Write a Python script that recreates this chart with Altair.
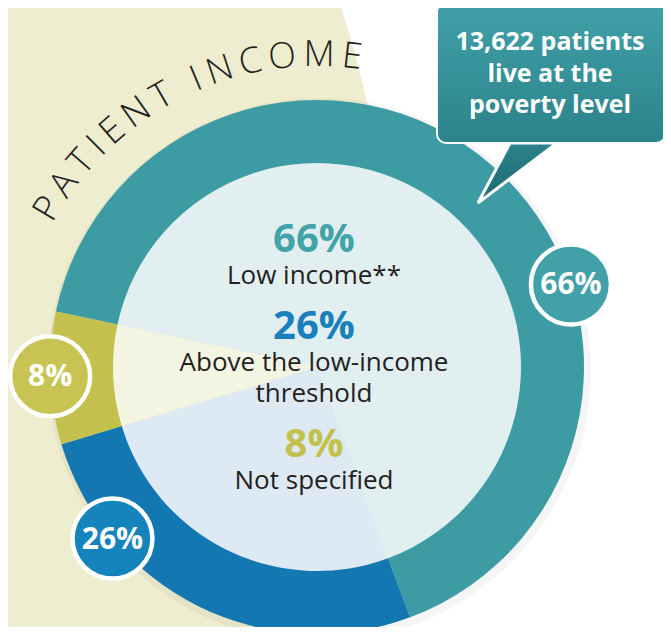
import math
import altair as alt
import pandas as pd

# ---------------- data ----------------
categories = ["Low income**", "Above the low-income threshold", "Not specified"]
shares = [66, 26, 8]
pct_labels = ["66%", "26%", "8%"]
label_lines = [["Low income**"], ["Above the low-income", "threshold"], ["Not specified"]]
title_text = "PATIENT INCOME"
callout_lines = ["13,622 patients", "live at the", "poverty level"]

# ---------------- styles ----------------
ring_colors = ["#3d9ba4", "#1378b1", "#c3c04e"]
tint_colors = ["#e1eff0", "#dde9f3", "#f4f4e3"]
bubble_colors = ["#41a0a8", "#1583bc", "#c8c453"]
pct_text_colors = ["#42a3a9", "#1a80bb", "#c3c14b"]
INK = "#231f20"
BEIGE = "#eeedcf"
FONT = "Open Sans"

# ---------------- layout (page pixels) ----------------
W, H = 655, 619
OFF = 8
CX, CY = 317, 367
R_OUT, R_IN = 267, 204
START_DEG = -78
bubble_deg = [72, 230, 268]
BUBBLE_R = 40
BG_CX, BG_CY, BG_R = -400, 261, 783
TEXT_CX = 314
BLOCK_TOP = 252
TITLE_SIZE, TITLE_TRACK, TITLE_R, TITLE_START = 36, 6.9, 312, -59.5
letter_em = {"P": .60, "A": .63, "T": .56, "I": .28, "E": .55, "N": .74,
             " ": .26, "C": .63, "O": .78, "M": .90}
BOX = dict(x=437, x2=665, y=3, y2=143)
TAIL = dict(y=[143, 203], x=[510, 478], x2=[557, 478])
CALLOUT_CX, CALLOUT_BASE, CALLOUT_LH = 550, 50, 31.5

xs = alt.Scale(domain=[0, W], nice=False, zero=False)
ys = alt.Scale(domain=[0, H], nice=False, zero=False, reverse=True)


def X(f="x"):
    return alt.X(f"{f}:Q", scale=xs, axis=None)


def Y(f="y"):
    return alt.Y(f"{f}:Q", scale=ys, axis=None)


def circle_size(r):
    # Vega symbol size is the area of the bounding square
    return (2 * r) ** 2


# background beige disc
bg = alt.Chart(pd.DataFrame({"a": [0]})).mark_circle(
    color=BEIGE, opacity=1, size=circle_size(BG_R)
).encode(x=alt.value(BG_CX - OFF), y=alt.value(BG_CY - OFF))

# soft shadow behind the ring
shadow = alt.Chart(pd.DataFrame({"a": [0]})).mark_circle(
    color="#000000", opacity=0.04, size=circle_size(R_OUT + 5)
).encode(x=alt.value(CX - OFF + 2), y=alt.value(CY - OFF + 3))

# ring + tinted inner pie
ring = pd.DataFrame({"category": categories, "share": shares, "order": list(range(len(shares))),
                     "ring": ring_colors, "tint": tint_colors})
start = math.radians(START_DEG)
theta_scale = alt.Scale(domain=[0, sum(shares)], range=[start, start + 2 * math.pi])
base_arc = alt.Chart(ring).encode(
    theta=alt.Theta("share:Q", stack=True, scale=theta_scale),
    order=alt.Order("order:Q"),
    x=alt.value(CX - OFF), y=alt.value(CY - OFF),
)
tint_layer = base_arc.mark_arc(outerRadius=R_IN + 2).encode(color=alt.Color("tint:N", scale=None))
ring_layer = base_arc.mark_arc(innerRadius=R_IN, outerRadius=R_OUT).encode(
    color=alt.Color("ring:N", scale=None))

# center text
pct_rows, lbl_rows = [], []
y0 = BLOCK_TOP
for lab, lines, col in zip(pct_labels, label_lines, pct_text_colors):
    pct_rows.append({"t": lab, "x": TEXT_CX - OFF, "y": y0 - OFF, "c": col})
    for i, ln in enumerate(lines):
        lbl_rows.append({"t": ln, "x": TEXT_CX - OFF, "y": y0 + 32 + 31 * i - OFF})
    y0 = y0 + 32 + 31 * (len(lines) - 1) + 55
center_pct = alt.Chart(pd.DataFrame(pct_rows)).mark_text(
    font=FONT, fontSize=40, fontWeight="bold", baseline="alphabetic", align="center"
).encode(x=X(), y=Y(), text="t:N", color=alt.Color("c:N", scale=None))
center_lbl = alt.Chart(pd.DataFrame(lbl_rows)).mark_text(
    font=FONT, fontSize=26, baseline="alphabetic", align="center", color=INK
).encode(x=X(), y=Y(), text="t:N")

# curved title
px_per_deg = 2 * math.pi * TITLE_R / 360
rows, acc = [], 0.0
w0 = letter_em[title_text[0]] * TITLE_SIZE
for ch in title_text:
    w = letter_em[ch] * TITLE_SIZE
    centre = acc + w / 2 - w0 / 2
    acc += w + TITLE_TRACK
    if ch == " ":
        continue
    deg = TITLE_START + centre / px_per_deg
    rad = math.radians(deg)
    rows.append({"t": ch, "x": CX + TITLE_R * math.sin(rad) - OFF,
                 "y": CY - TITLE_R * math.cos(rad) - OFF, "a": deg % 360})
title_layer = alt.Chart(pd.DataFrame(rows)).mark_text(
    font=FONT, fontSize=TITLE_SIZE, fontWeight=300, color=INK, align="center", baseline="middle"
).encode(x=X(), y=Y(), text="t:N", angle=alt.Angle("a:Q", scale=None))

# bubbles
bub = pd.DataFrame({"t": pct_labels, "deg": bubble_deg, "fill": bubble_colors})
bub["x"] = [CX + R_OUT * math.sin(math.radians(d)) - OFF for d in bub["deg"]]
bub["y"] = [CY - R_OUT * math.cos(math.radians(d)) - OFF for d in bub["deg"]]
bubbles = alt.Chart(bub).mark_circle(
    size=circle_size(BUBBLE_R), opacity=1, stroke="white", strokeWidth=4.5
).encode(x=X(), y=Y(), color=alt.Color("fill:N", scale=None))
bubble_text = alt.Chart(bub).mark_text(
    font=FONT, fontSize=30, fontWeight="bold", color="white", align="center", baseline="middle", dy=1
).encode(x=X(), y=Y(), text="t:N")

# callout
tail_df = pd.DataFrame({"y": [v - OFF for v in TAIL["y"]], "x": [v - OFF for v in TAIL["x"]],
                        "x2": [v - OFF for v in TAIL["x2"]]})
tail = alt.Chart(tail_df).mark_area(
    orient="horizontal", stroke="white", strokeWidth=3,
    color=alt.Gradient(gradient="linear", stops=[alt.GradientStop(color="#2c838b", offset=0),
                                                 alt.GradientStop(color="#1d686f", offset=1)],
                       x1=0, x2=0, y1=0, y2=1),
).encode(y=Y(), x=X(), x2=alt.X2("x2:Q"))
box_df = pd.DataFrame({k: [v - OFF] for k, v in BOX.items()})
box = alt.Chart(box_df).mark_rect(
    cornerRadius=9, stroke="white", strokeWidth=2,
    color=alt.Gradient(gradient="linear", stops=[alt.GradientStop(color="#40a0a8", offset=0),
                                                 alt.GradientStop(color="#2c838b", offset=1)],
                       x1=0, x2=0, y1=0, y2=1),
).encode(x=X(), x2=alt.X2("x2:Q"), y=Y(), y2=alt.Y2("y2:Q"))
call_df = pd.DataFrame({"t": callout_lines,
                        "x": [CALLOUT_CX - OFF] * len(callout_lines),
                        "y": [CALLOUT_BASE + CALLOUT_LH * i - OFF for i in range(len(callout_lines))]})
callout_text = alt.Chart(call_df).mark_text(
    font=FONT, fontSize=25, fontWeight="bold", color="white", align="center", baseline="alphabetic"
).encode(x=X(), y=Y(), text="t:N")

chart = alt.layer(
    bg, shadow, tint_layer, ring_layer, center_pct, center_lbl, title_layer,
    bubbles, bubble_text, tail, box, callout_text
).properties(
    width=W, height=H, padding=0, autosize=alt.AutoSizeParams(type="none")
).configure_view(stroke=None)

chart.save("out.html", embed_options={"renderer": "svg", "actions": False})
